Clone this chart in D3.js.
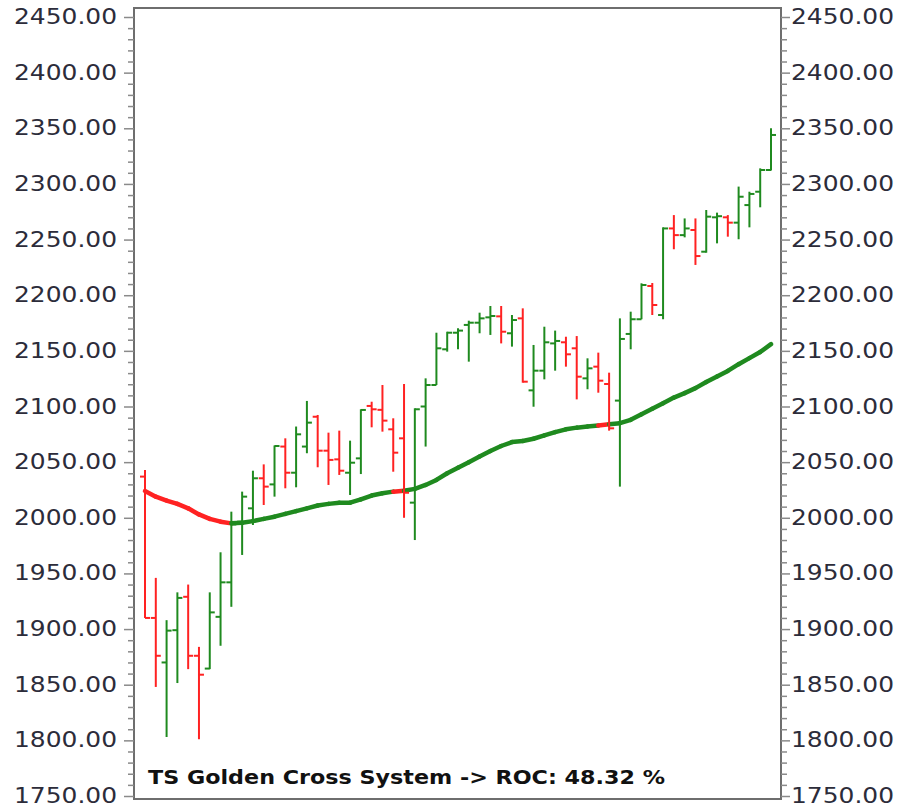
<!DOCTYPE html>
<html>
<head>
<meta charset="utf-8">
<script src="https://cdn.jsdelivr.net/npm/d3@7"></script>
<style>
  html, body { margin: 0; padding: 0; background: #fff; }
  svg { display: block; }
</style>
</head>
<body>
<svg id="chart" width="904" height="808"></svg>
<script>
// ---- data ----
const openVals  = [2037,1910,1870,1899,1929,1876,1864.5,1911,1942,1996.5,2008.5,2035.5,2030,2064,2040.5,2064,2090.8,2060.3,2052.5,2040.5,2053.4,2100.5,2097,2079.5,2071.4,2013.6,2100,2119.3,2151.4,2166.3,2173.3,2175.3,2180.1,2181,2165.8,2179.2,2114.5,2132.2,2156.7,2157.7,2152.3,2125.3,2135.8,2120.2,2105.3,2165.2,2178.4,2208.3,2182.2,2260,2254,2258.6,2239.1,2270,2270,2265.2,2281,2293,2312.5];
const highVals  = [2043,1946,1908,1933,1940,1884,1933,1969,2005.5,2023.5,2042.3,2048,2065,2071.4,2082,2105,2092.4,2076.5,2078.3,2069.3,2097.5,2104.3,2119.3,2089.4,2120.2,2098.4,2125.3,2166.3,2167.2,2170.3,2177.1,2184.3,2190.3,2190.3,2182.2,2188.2,2155.3,2171.7,2168.2,2162.7,2163.3,2143.3,2148.4,2130.4,2179.2,2185.2,2210.7,2211,2261,2272,2269,2269,2276.6,2274.2,2272,2297.6,2293,2314,2350];
const lowVals   = [1910,1848,1803,1851.5,1864,1801,1864,1885,1920,1966.6,1993.5,2011.5,2019,2026.5,2027.4,2058,2045.4,2029.5,2038.5,2020.5,2039.3,2081.3,2077.4,2041.4,2000,1980,2064,2119.3,2149.3,2151.4,2140.3,2165.8,2164.3,2156.7,2153.8,2121.4,2099.8,2124.4,2132.2,2135.8,2106.4,2115.5,2112.4,2078.3,2028,2151.4,2178.4,2182.2,2178.4,2241.3,2252,2227.2,2238.2,2246.6,2252.6,2250.3,2261,2279,2312];
const closeVals = [1910,1876,1898.6,1928,1876,1859,1915,1942,1994,2019,2035.5,2028,2064.5,2040.5,2075,2085.5,2060.3,2052,2042.3,2049.5,2096.9,2097.5,2087.3,2058.5,2022.5,2097.5,2119.3,2152.3,2166.3,2168.2,2175.3,2179.2,2181.3,2167.2,2177.7,2122.3,2132.2,2157.7,2158.9,2146.9,2126.8,2134.3,2123.2,2080.4,2160.7,2178.4,2209.2,2191.2,2260,2254,2260,2235.2,2270.6,2271,2265.2,2288.5,2291,2312.5,2344];
const maVals    = [2024,2019,2015.5,2012.5,2008.5,2003,1999,1996.5,1995,1995.5,1997,1999,2001,2003.5,2006,2008.5,2011,2012.5,2013.5,2013.6,2016.5,2020,2022,2023.5,2024.3,2026,2029.5,2034,2040,2045,2050,2055,2060,2064.5,2068,2069,2071,2074,2077,2079.5,2081,2082,2083,2084,2085,2088,2093,2098,2103,2108,2112,2116.5,2122,2127,2132,2138,2143.5,2149,2156];
const yMajorTicks = [1750,1800,1850,1900,1950,2000,2050,2100,2150,2200,2250,2300,2350,2400,2450];
const titleText = "TS Golden Cross System -> ROC: 48.32 %";

const upColor = "#1f8a1f";
const downColor = "#ff2222";

const svg = d3.select("#chart");
const frame = {left: 134, top: 8, right: 781, bottom: 799};

const idx = d3.range(openVals.length);
const x = d3.scalePoint().domain(idx).range([145, 771]);
const y = d3.scaleLinear().domain([1750, 2450]).range([796, 17]);

// frame
svg.append("rect")
  .attr("x", frame.left).attr("y", frame.top)
  .attr("width", frame.right - frame.left).attr("height", frame.bottom - frame.top)
  .attr("fill", "#fff").attr("stroke", "#6e6e6e").attr("stroke-width", 2);

// axes
const minorTicks = d3.range(1750, 2451, 10).filter(v => v % 50 !== 0);
function styleAxis(g) {
  g.select(".domain").remove();
  g.selectAll("line").attr("stroke", "#8a8a8a").attr("stroke-width", 1.5);
}
const leftMinor = svg.append("g").attr("transform", `translate(${frame.left},0)`)
  .call(d3.axisLeft(y).tickValues(minorTicks).tickSize(6).tickFormat(""));
styleAxis(leftMinor);
const rightMinor = svg.append("g").attr("transform", `translate(${frame.right},0)`)
  .call(d3.axisRight(y).tickValues(minorTicks).tickSize(6).tickFormat(""));
styleAxis(rightMinor);

const fmt = d3.format(".2f");
const leftAxis = svg.append("g").attr("transform", `translate(${frame.left},0)`)
  .call(d3.axisLeft(y).tickValues(yMajorTicks).tickSize(10).tickPadding(7).tickFormat(fmt));
styleAxis(leftAxis);
const rightAxis = svg.append("g").attr("transform", `translate(${frame.right},0)`)
  .call(d3.axisRight(y).tickValues(yMajorTicks).tickSize(9).tickPadding(1).tickFormat(fmt));
styleAxis(rightAxis);
svg.selectAll(".tick text")
  .attr("font-family", "DejaVu Sans, Verdana, sans-serif")
  .attr("font-size", 20.5)
  .attr("fill", "#2c2c3a")
  .attr("textLength", 103)
  .attr("lengthAdjust", "spacingAndGlyphs");

// clip region
svg.append("clipPath").attr("id", "plotclip").append("rect")
  .attr("x", frame.left + 1).attr("y", frame.top + 1)
  .attr("width", frame.right - frame.left - 2).attr("height", frame.bottom - frame.top - 2);
const plot = svg.append("g").attr("clip-path", "url(#plotclip)");

// moving average (segments coloured by close vs average)
const maSegs = idx.slice(1).map(i => ({a: i - 1, b: i, up: closeVals[i] >= maVals[i]}));
plot.append("g").selectAll("line").data(maSegs).join("line")
  .attr("x1", d => x(d.a)).attr("y1", d => y(maVals[d.a]))
  .attr("x2", d => x(d.b)).attr("y2", d => y(maVals[d.b]))
  .attr("stroke", d => d.up ? upColor : downColor)
  .attr("stroke-width", 4.5)
  .attr("stroke-linecap", "round");

// OHLC bars
const bars = plot.append("g").selectAll("g").data(idx).join("g")
  .attr("stroke", i => closeVals[i] >= openVals[i] ? upColor : downColor)
  .attr("stroke-width", 2);
bars.append("line")
  .attr("x1", i => x(i)).attr("x2", i => x(i))
  .attr("y1", i => y(highVals[i])).attr("y2", i => y(lowVals[i]));
bars.append("line")
  .attr("x1", i => x(i) - 5).attr("x2", i => x(i))
  .attr("y1", i => y(openVals[i])).attr("y2", i => y(openVals[i]));
bars.append("line")
  .attr("x1", i => x(i)).attr("x2", i => x(i) + 5)
  .attr("y1", i => y(closeVals[i])).attr("y2", i => y(closeVals[i]));

// title text
svg.append("text")
  .attr("x", 148).attr("y", 784)
  .attr("font-family", "DejaVu Sans, Verdana, sans-serif")
  .attr("font-weight", "bold")
  .attr("font-size", 19)
  .attr("fill", "#111")
  .attr("textLength", 517)
  .attr("lengthAdjust", "spacingAndGlyphs")
  .text(titleText);
</script>
</body>
</html>
